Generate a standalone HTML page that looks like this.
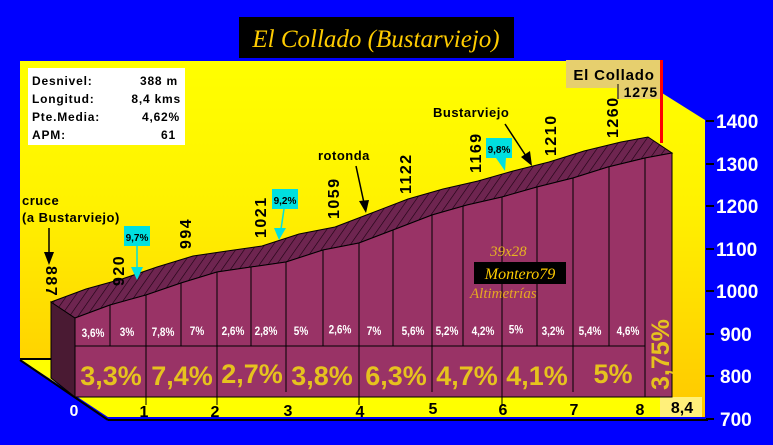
<!DOCTYPE html>
<html><head><meta charset="utf-8"><style>
html,body{margin:0;padding:0;background:#0000ff;}
svg{display:block;}
text{font-family:"Liberation Sans",sans-serif;font-weight:bold;}
</style></head><body>
<svg width="773" height="445" viewBox="0 0 773 445" xmlns="http://www.w3.org/2000/svg">
<defs>
<linearGradient id="yg" x1="0" y1="0" x2="0" y2="1">
<stop offset="0" stop-color="#ffff00"/><stop offset="0.4" stop-color="#fff200"/><stop offset="1" stop-color="#ffc800"/>
</linearGradient>
<pattern id="hatch" width="7" height="7" patternUnits="userSpaceOnUse" patternTransform="rotate(35)">
<rect width="7" height="7" fill="#6e2550"/><line x1="0" y1="0" x2="0" y2="7" stroke="#1a0010" stroke-width="1.2"/>
</pattern>
</defs>
<rect width="773" height="445" fill="#0000ff"/>
<polygon points="20,61 662,61 662,93 705,120 705,417 108,417 20,359" fill="url(#yg)"/>
<polygon points="20,359 51,359 75,397 702,397 702,417 108,417" fill="#ffff00"/>
<rect x="660" y="397" width="42" height="20" fill="#fff07a"/>
<line x1="20" y1="359" x2="51" y2="359" stroke="#000" stroke-width="2"/>
<line x1="20" y1="360" x2="108" y2="420" stroke="#000" stroke-width="2"/>
<line x1="108" y1="420" x2="708" y2="420" stroke="#000" stroke-width="2"/>
<g stroke="#000" stroke-width="2">
<line x1="706" y1="121" x2="714" y2="121"/><line x1="706" y1="164" x2="714" y2="164"/>
<line x1="706" y1="206" x2="714" y2="206"/><line x1="706" y1="249" x2="714" y2="249"/>
<line x1="706" y1="291" x2="714" y2="291"/><line x1="706" y1="334" x2="714" y2="334"/>
<line x1="706" y1="376" x2="714" y2="376"/><line x1="706" y1="419" x2="714" y2="419"/>
</g>
<g fill="#fff" font-size="19">
<text x="716" y="128">1400</text><text x="716" y="171">1300</text><text x="716" y="213">1200</text>
<text x="716" y="256">1100</text><text x="716" y="298">1000</text><text x="720" y="341">900</text>
<text x="720" y="383">800</text><text x="720" y="426">700</text>
</g>
<polygon points="51,302 75,318 75,397 51,378" fill="#4a1a33" stroke="#000" stroke-width="1"/>
<polygon points="51,302 86,289 122,279 157,267 193,256 227,251 262,246 299,234 335,227 369,214 408,199 443,189 478,181 513,171 549,162 584,151 621,142 648,137 672,153 645,158 608,167 573,178 537,187 502,197 467,205 432,215 393,230 359,243 323,250 286,262 251,267 217,272 181,283 146,295 110,305 75,318" fill="url(#hatch)" stroke="#000" stroke-width="1"/>
<polygon points="75,318 110,305 146,295 181,283 217,272 251,267 286,262 323,250 359,243 393,230 432,215 467,205 502,197 537,187 573,178 608,167 645,158 672,153 672,397 75,397" fill="#993366" stroke="#000" stroke-width="1"/>
<g stroke="#000" stroke-width="1">
<line x1="110" y1="305" x2="110" y2="346"/><line x1="146" y1="295" x2="146" y2="397"/>
<line x1="181" y1="283" x2="181" y2="346"/><line x1="217" y1="272" x2="217" y2="397"/>
<line x1="251" y1="267" x2="251" y2="346"/><line x1="286" y1="262" x2="286" y2="392"/>
<line x1="323" y1="250" x2="323" y2="346"/><line x1="359" y1="243" x2="359" y2="397"/>
<line x1="393" y1="230" x2="393" y2="346"/><line x1="432" y1="215" x2="432" y2="392"/>
<line x1="463" y1="206" x2="463" y2="346"/><line x1="502" y1="197" x2="502" y2="397"/>
<line x1="537" y1="187" x2="537" y2="346"/><line x1="573" y1="178" x2="573" y2="392"/>
<line x1="609" y1="167" x2="609" y2="346"/><line x1="645" y1="158" x2="645" y2="397"/>
<line x1="75" y1="346" x2="645" y2="346"/>
<line x1="146" y1="397" x2="146" y2="405"/><line x1="217" y1="397" x2="217" y2="405"/>
<line x1="359" y1="397" x2="359" y2="405"/><line x1="502" y1="397" x2="502" y2="405"/>
</g>
<g fill="#fff" font-size="10" text-anchor="middle" transform="scale(1,1.2)">
<text x="93" y="281">3,6%</text><text x="127" y="280">3%</text><text x="163" y="280">7,8%</text>
<text x="197" y="279">7%</text><text x="233" y="279">2,6%</text><text x="266" y="279">2,8%</text>
<text x="301" y="279">5%</text><text x="340" y="278">2,6%</text><text x="374" y="279">7%</text>
<text x="413" y="279">5,6%</text><text x="447" y="279">5,2%</text><text x="483" y="279">4,2%</text>
<text x="516" y="278">5%</text><text x="553" y="279">3,2%</text><text x="590" y="279">5,4%</text>
<text x="628" y="279">4,6%</text>
</g>
<g fill="#e6c21e" font-size="27" text-anchor="middle">
<text x="111" y="385">3,3%</text><text x="182" y="385">7,4%</text><text x="252" y="383">2,7%</text>
<text x="322" y="385">3,8%</text><text x="396" y="385">6,3%</text><text x="467" y="385">4,7%</text>
<text x="537" y="385">4,1%</text><text x="613" y="383">5%</text>
<text transform="translate(669,390) rotate(-90)" font-size="25" text-anchor="start">3,75%</text>
</g>
<g fill="#000" font-size="16" text-anchor="middle">
<text x="74" y="416" fill="#fff">0</text><text x="144" y="417">1</text><text x="215" y="417">2</text>
<text x="288" y="416">3</text><text x="360" y="417">4</text><text x="433" y="414">5</text>
<text x="503" y="415">6</text><text x="574" y="415">7</text><text x="640" y="415">8</text>
<text x="682" y="413">8,4</text>
</g>
<g fill="#000" font-size="16" letter-spacing="1.5">
<text transform="translate(46,266) rotate(90)">887</text>
<text transform="translate(124,286) rotate(-90)">920</text>
<text transform="translate(191,249) rotate(-90)">994</text>
<text transform="translate(266,238) rotate(-90)">1021</text>
<text transform="translate(339,219) rotate(-90)">1059</text>
<text transform="translate(411,194) rotate(-90)">1122</text>
<text transform="translate(481,173) rotate(-90)">1169</text>
<text transform="translate(556,156) rotate(-90)">1210</text>
<text transform="translate(618,138) rotate(-90)">1260</text>
</g>
<g>
<rect x="124" y="226" width="26" height="20" fill="#00e0e0"/>
<line x1="137" y1="246" x2="137" y2="276" stroke="#00e0e0" stroke-width="1.5"/>
<polygon points="131,267 143,267 137,280" fill="#00e0e0"/>
<text x="137" y="241" font-size="10" text-anchor="middle" fill="#000">9,7%</text>
<rect x="272" y="189" width="26" height="20" fill="#00e0e0"/>
<line x1="284" y1="209" x2="280" y2="236" stroke="#00e0e0" stroke-width="1.5"/>
<polygon points="274,228 286,228 279,240" fill="#00e0e0"/>
<text x="285" y="204" font-size="10" text-anchor="middle" fill="#000">9,2%</text>
<rect x="486" y="138" width="26" height="20" fill="#00e0e0"/>
<polygon points="496,158 506,158 505,171" fill="#00e0e0"/>
<text x="499" y="153" font-size="10" text-anchor="middle" fill="#000">9,8%</text>
</g>
<g fill="#000" font-size="13" letter-spacing="0.5">
<text x="22" y="205">cruce</text><text x="22" y="222">(a Bustarviejo)</text>
<text x="318" y="160">rotonda</text><text x="433" y="117">Bustarviejo</text>
</g>
<g stroke="#000" stroke-width="1.5">
<line x1="49" y1="228" x2="49" y2="255"/><line x1="356" y1="166" x2="364" y2="203"/>
<line x1="505" y1="124" x2="526" y2="156"/>
</g>
<polygon points="44,252 54,252 49,265" fill="#000"/>
<polygon points="359,201 369,200 366,213" fill="#000"/>
<polygon points="521,157 530,151 532,166" fill="#000"/>
<rect x="28" y="68" width="157" height="77" fill="#fff"/>
<g fill="#000" font-size="12" letter-spacing="0.8">
<text x="32" y="85">Desnivel:</text><text x="178" y="85" text-anchor="end">388 m</text>
<text x="32" y="103">Longitud:</text><text x="181" y="103" text-anchor="end">8,4 kms</text>
<text x="32" y="121">Pte.Media:</text><text x="180" y="121" text-anchor="end">4,62%</text>
<text x="32" y="139">APM:</text><text x="176" y="139" text-anchor="end">61</text>
</g>
<rect x="239" y="17" width="275" height="41" fill="#000"/>
<text x="376" y="47" text-anchor="middle" fill="#ffcc00" font-size="25" style="font-family:'Liberation Serif',serif;font-style:italic;font-weight:normal">El Collado (Bustarviejo)</text>
<rect x="566" y="60" width="96" height="28" fill="#e6cf6e"/>
<rect x="617" y="84" width="45" height="15" fill="#e6cf6e"/>
<text x="614" y="80" font-size="15" text-anchor="middle" fill="#000" letter-spacing="0.8">El Collado</text>
<text x="658" y="97" font-size="14" text-anchor="end" fill="#000" letter-spacing="0.8">1275</text>
<line x1="618" y1="84" x2="618" y2="99" stroke="#000"/>
<rect x="660" y="60" width="3" height="83" fill="#ff0000"/>
<text x="490" y="256" font-size="15" fill="#e6b422" style="font-family:'Liberation Serif',serif;font-style:italic;font-weight:normal">39x28</text>
<rect x="474" y="262" width="92" height="22" fill="#000"/>
<text x="520" y="279" font-size="16" text-anchor="middle" fill="#ffcc00" style="font-family:'Liberation Serif',serif;font-style:italic;font-weight:normal">Montero79</text>
<text x="470" y="298" font-size="15" fill="#e6a822" style="font-family:'Liberation Serif',serif;font-style:italic;font-weight:normal">Altimetrías</text>
</svg>
</body></html>
